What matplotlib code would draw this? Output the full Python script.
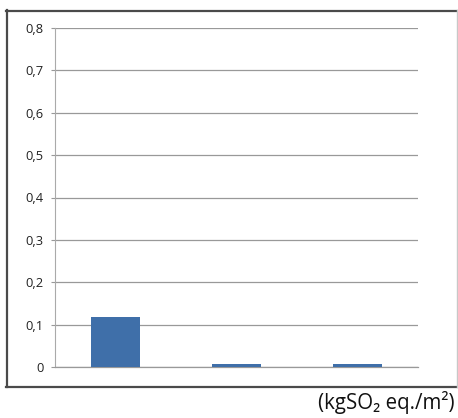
import matplotlib
matplotlib.use("Agg")
import matplotlib.pyplot as plt
from matplotlib.lines import Line2D

categories = ["A", "B", "C"]
values = [0.117, 0.006, 0.006]
yticks = [0, 0.1, 0.2, 0.3, 0.4, 0.5, 0.6, 0.7, 0.8]
ytick_labels = ["0", "0,1", "0,2", "0,3", "0,4", "0,5", "0,6", "0,7", "0,8"]
unit_label = "(kgSO₂ eq./m²)"

W, H = 458, 418
fig = plt.figure(figsize=(W / 100, H / 100), dpi=100)
plt.rcParams['font.family'] = ['Open Sans', 'DejaVu Sans']

def fx(px): return px / W
def fy(py): return 1 - py / H

# outer frame
frame_c = "#4a4a4a"
fig.add_artist(Line2D([fx(7), fx(7)], [fy(10), fy(387)], color=frame_c, lw=1.6, transform=fig.transFigure))
fig.add_artist(Line2D([fx(6), fx(457)], [fy(10.5), fy(10.5)], color=frame_c, lw=1.6, transform=fig.transFigure))
fig.add_artist(Line2D([fx(6), fx(457)], [fy(386.5), fy(386.5)], color=frame_c, lw=1.6, transform=fig.transFigure))
fig.add_artist(Line2D([fx(456.5), fx(456.5)], [fy(10), fy(387)], color="#c8c8c8", lw=1.0, transform=fig.transFigure))

ax = fig.add_axes([fx(55), fy(367), (418 - 55) / W, (367 - 28) / H])
x = list(range(len(categories)))
ax.bar(x, values, width=0.4, color="#3F6FA9", zorder=3)
ax.set_xlim(-0.5, len(categories) - 0.5)
ax.set_ylim(0, 0.8)
ax.set_yticks(yticks)
ax.set_yticklabels(ytick_labels, fontsize=9.3, color="#222222")
ax.set_xticks([])
ax.tick_params(axis='y', length=3, width=0.8, color="#999999", pad=5)
ax.grid(axis='y', color="#999999", lw=0.9, zorder=0)
ax.set_axisbelow(True)
for s in ["top", "right"]:
    ax.spines[s].set_visible(False)
ax.spines["left"].set_color("#aaaaaa")
ax.spines["bottom"].set_color("#999999")
ax.spines["left"].set_linewidth(0.8)
ax.spines["bottom"].set_linewidth(0.9)

fig.text(fx(454), fy(403), unit_label, ha="right", va="center", fontsize=14.8, color="#111111")

fig.savefig("out.png", dpi=100)
